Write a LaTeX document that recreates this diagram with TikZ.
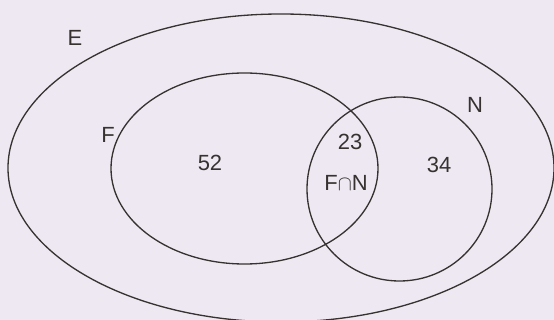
\documentclass[tikz,border=0pt]{standalone}
\usepackage{fontspec}
\setmainfont{Liberation Sans}
\usepackage{xcolor}
\definecolor{bgcol}{RGB}{237,232,242}
\definecolor{inkcol}{RGB}{55,50,48}

\begin{document}
\begin{tikzpicture}[x=0.02cm,y=-0.02cm,line width=0.75pt]
    \tikzset{lab/.style={text=inkcol,font=\fontsize{12.5}{15}\selectfont,inner sep=0pt}}
    \fill[bgcol] (0,0) rectangle (554,320);
    \useasboundingbox (0,0) rectangle (554,320);
    % sets
    \begin{scope}
        \clip (0,0) rectangle (554,320);
        \draw[inkcol] (281,168) ellipse (273 and 154);
    \end{scope}
    \draw[inkcol] (244.5,168.5) ellipse (133.5 and 95.5);
    \draw[inkcol] (399.5,189) ellipse (92.5 and 92);
    % labels
    \node[lab] (lE) at (75,38) {E};
    \node[lab] (lF) at (108,135) {F};
    \node[lab] (lN) at (475,105) {N};
    \node[lab] (nF) at (210,163) {52};
    \node[lab] (nFN) at (350,142) {23};
    \node[lab] (lFN) at (346,183) {F$\cap$N};
    \node[lab] (nN) at (439,165) {34};
\end{tikzpicture}
\end{document}
